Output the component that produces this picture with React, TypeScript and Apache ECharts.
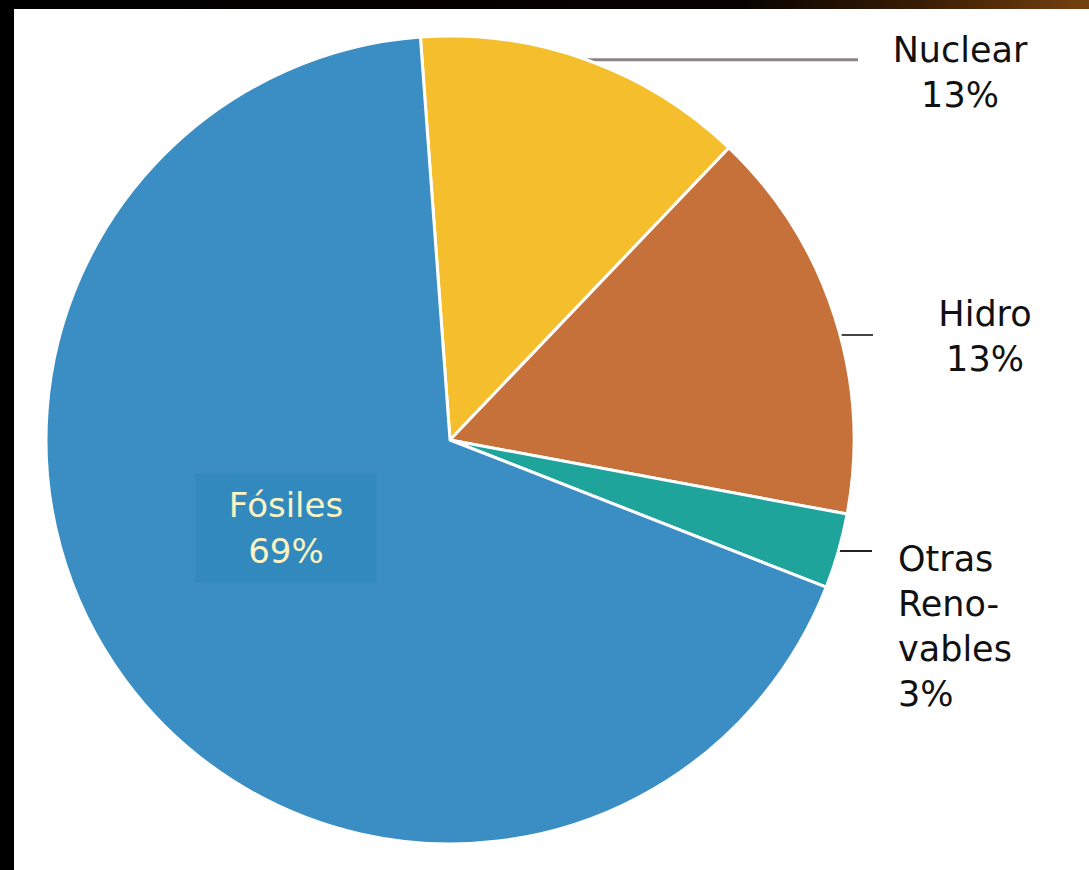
import React, { useEffect, useRef } from 'react';
import * as echarts from 'echarts';

// ---- data ----
const categories = ['Nuclear', 'Hidro', 'Otras Renovables', 'Fósiles'];
const labelNames = ['Nuclear', 'Hidro', 'Otras\nReno-\nvables', 'Fósiles'];
const shareLabels = ['13%', '13%', '3%', '69%'];
const sliceValues = [13.3, 15.8, 3.0, 67.9];
const sliceColors = ['#f5be2d', '#c7713a', '#1ea49b', '#3a8ec3'];

// ---- layout ----
const CX = 450;
const CY = 440;
const R = 404;
const START_ANGLE = 94.2;

const labelPlacement: any[] = [
  { x: 960, y: 72, align: 'center', lineEnd: 858, shift: 0, line: { color: '#8a8383', width: 3 } },
  { x: 985, y: 336, align: 'center', lineEnd: 873, shift: -2.8, line: { color: '#444444', width: 2 } },
  { x: 898, y: 626, align: 'left', lineEnd: 872, shift: 0, line: { color: '#222222', width: 2 } },
  { x: 286, y: 528, align: 'center', inside: true },
];

function midAngleDeg(i: number): number {
  const total = sliceValues.reduce((a, b) => a + b, 0);
  let cum = 0;
  for (let k = 0; k < i; k++) cum += sliceValues[k];
  const a0 = START_ANGLE - (360 * cum) / total;
  const a1 = a0 - (360 * sliceValues[i]) / total;
  return (a0 + a1) / 2;
}

export default function App() {
  const ref = useRef<HTMLDivElement>(null);

  useEffect(() => {
    if (!ref.current) return;
    const chart = echarts.init(ref.current, undefined, { renderer: 'svg' });

    const data = categories.map((name, i) => {
      const p = labelPlacement[i];
      const item: any = {
        name,
        value: sliceValues[i],
        itemStyle: { color: sliceColors[i] },
      };
      if (p.inside) {
        item.label = {
          position: 'inside',
          color: '#fbf3c1',
          fontSize: 34,
          lineHeight: 46,
          backgroundColor: '#3289be',
          padding: [9, 33, 9, 33],
        };
        item.labelLine = { show: false };
      } else {
        item.label = { position: 'outside' };
        item.labelLine = { show: true, length: 0, length2: 20, lineStyle: p.line };
      }
      return item;
    });

    chart.setOption({
      animation: false,
      backgroundColor: '#ffffff',
      graphic: [
        { type: 'rect', shape: { x: 0, y: 0, width: 14, height: 870 }, style: { fill: '#000000' }, z: 10 },
        {
          type: 'rect',
          shape: { x: 0, y: 0, width: 1089, height: 9 },
          style: {
            fill: new echarts.graphic.LinearGradient(0, 0, 1, 0, [
              { offset: 0, color: '#000000' },
              { offset: 0.68, color: '#070300' },
              { offset: 0.85, color: '#3b1d05' },
              { offset: 1, color: '#754110' },
            ]),
          },
          z: 10,
        },
      ],
      series: [
        {
          type: 'pie',
          center: [CX, CY],
          radius: [0, R],
          startAngle: START_ANGLE,
          clockwise: true,
          avoidLabelOverlap: false,
          itemStyle: { borderColor: '#ffffff', borderWidth: 3 },
          emphasis: { disabled: true },
          label: {
            show: true,
            fontFamily: 'DejaVu Sans',
            fontSize: 35,
            lineHeight: 45,
            color: '#111111',
            formatter: (params: any) => `${labelNames[params.dataIndex]}\n${shareLabels[params.dataIndex]}`,
          },
          labelLayout: (params: any) => {
            const i = params.dataIndex;
            const p = labelPlacement[i];
            const out: any = { x: p.x, y: p.y, align: p.align, verticalAlign: 'middle' };
            if (!p.inside) {
              const a = ((midAngleDeg(i) + p.shift) * Math.PI) / 180;
              const ex = CX + R * Math.cos(a);
              const ey = CY - R * Math.sin(a);
              out.labelLinePoints = [
                [ex, ey],
                [p.lineEnd, ey],
              ];
            }
            return out;
          },
          data,
        },
      ],
    });

    return () => chart.dispose();
  }, []);

  return (
    <div
      ref={ref}
      style={{ position: 'fixed', left: 0, top: 0, width: 1089, height: 870 }}
    />
  );
}
